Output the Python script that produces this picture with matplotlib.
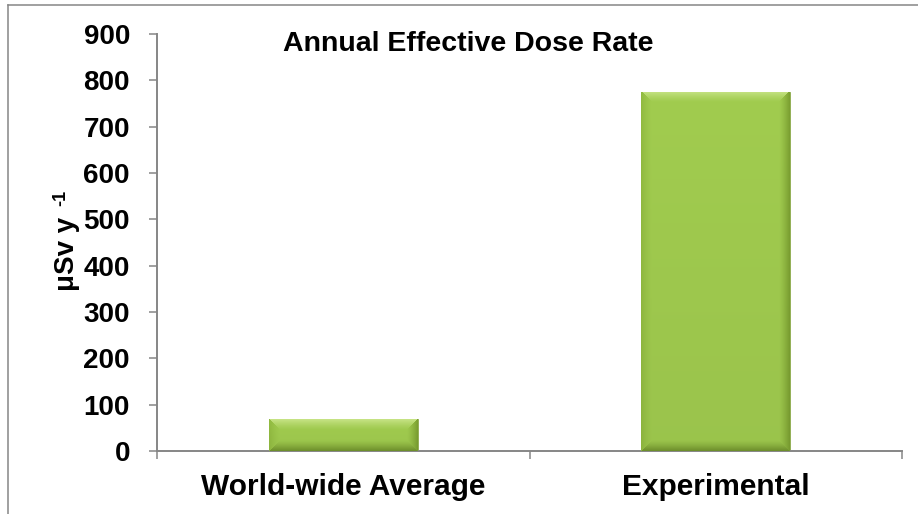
import numpy as np
import matplotlib
matplotlib.use("Agg")
import matplotlib.pyplot as plt
from matplotlib.lines import Line2D

# fonts: Arial-like bold everywhere
plt.rcParams['font.family'] = ['Liberation Sans', 'DejaVu Sans']
plt.rcParams['font.weight'] = 'bold'

# data
categories = ['World-wide Average', 'Experimental']
dose_rate = [68, 775]          # μSv y-1
y_ticks = [0, 100, 200, 300, 400, 500, 600, 700, 800, 900]

W, H = 918, 514
GREY = '#868686'

fig = plt.figure(figsize=(W / 100, H / 100), dpi=100)
ax = fig.add_axes([157 / W, 1 - 451 / H, 745 / W, 417 / H])

x = np.arange(len(categories))
bars = ax.bar(x, dose_rate, width=0.4, color='#a1cc4f', edgecolor='#8aa84a',
              linewidth=0.6, zorder=2)

ax.set_xlim(-0.5, len(categories) - 0.5)
ax.set_ylim(0, 900)
ax.set_yticks(y_ticks)
ax.set_xticks(x)
ax.set_xticklabels(categories, fontsize=21.5, fontweight='bold')
ax.set_xticks(np.arange(-0.5, len(categories)), minor=True)
ax.tick_params(axis='x', which='major', length=0, pad=16)
ax.tick_params(axis='x', which='minor', length=5.5, width=1.1, color=GREY)
ax.tick_params(axis='y', length=5.5, width=1.1, color=GREY, pad=14, labelsize=20)
for lab in ax.get_yticklabels():
    lab.set_fontweight('bold')

for s in ['top', 'right']:
    ax.spines[s].set_visible(False)
for s in ['left', 'bottom']:
    ax.spines[s].set_color(GREY)
    ax.spines[s].set_linewidth(1.4)


# bevel shading laid over each bar (Excel style)
def bevel_image(wpx, hpx, b=11):
    base = np.array([161, 204, 79]) / 255
    top = np.array([200, 228, 135]) / 255
    left = np.array([145, 186, 64]) / 255
    right = np.array([122, 158, 48]) / 255
    bottom = np.array([112, 146, 44]) / 255
    u = np.arange(wpx)[None, :] + 0.5
    v = np.arange(hpx)[:, None] + 0.5
    d = np.stack(np.broadcast_arrays(u, wpx - u, v, hpx - v))
    idx = d.argmin(axis=0)
    dmin = d.min(axis=0)
    t = np.clip(1 - dmin / b, 0, 1) ** 1.3
    edge_cols = np.stack([left, right, top, bottom])
    ec = edge_cols[idx]
    img = base * (1 - t[..., None]) + ec * t[..., None]
    img = img * (1 - 0.04 * (v / hpx))[..., None]
    return np.clip(img, 0, 1)


fig.canvas.draw()
for rect in bars:
    x0, y0 = rect.get_x(), rect.get_y()
    x1, y1 = x0 + rect.get_width(), y0 + rect.get_height()
    p0 = ax.transData.transform((x0, y0))
    p1 = ax.transData.transform((x1, y1))
    wpx = max(int(round(p1[0] - p0[0])), 2)
    hpx = max(int(round(p1[1] - p0[1])), 2)
    im = ax.imshow(bevel_image(wpx, hpx, b=min(11, hpx / 2.2)),
                   extent=(x0, x1, y0, y1), aspect='auto',
                   interpolation='bilinear', zorder=3, origin='upper')
    im.set_clip_path(rect)

ax.set_xlim(-0.5, len(categories) - 0.5)
ax.set_ylim(0, 900)

# title inside plot area
fig.text(468 / W, 1 - 44 / H, 'Annual Effective Dose Rate', fontsize=20.5,
         fontweight='bold', ha='center', va='center')

# y label, superscript drawn as a separate smaller text
fig.text(67 / W, 1 - 254 / H, 'μSv y', fontsize=20,
         fontweight='bold', rotation=90, ha='center', va='center')
fig.text(61 / W, 1 - 198 / H, '-1', fontsize=13,
         fontweight='bold', rotation=90, ha='center', va='center')

# chart frame (only top and left edges visible)
fig.add_artist(Line2D([8 / W, 8 / W], [0, 1 - 5 / H], color=GREY, lw=1.1,
                      transform=fig.transFigure))
fig.add_artist(Line2D([8 / W, 1], [1 - 5 / H, 1 - 5 / H], color=GREY, lw=1.1,
                      transform=fig.transFigure))

fig.savefig('out.png', dpi=100)
